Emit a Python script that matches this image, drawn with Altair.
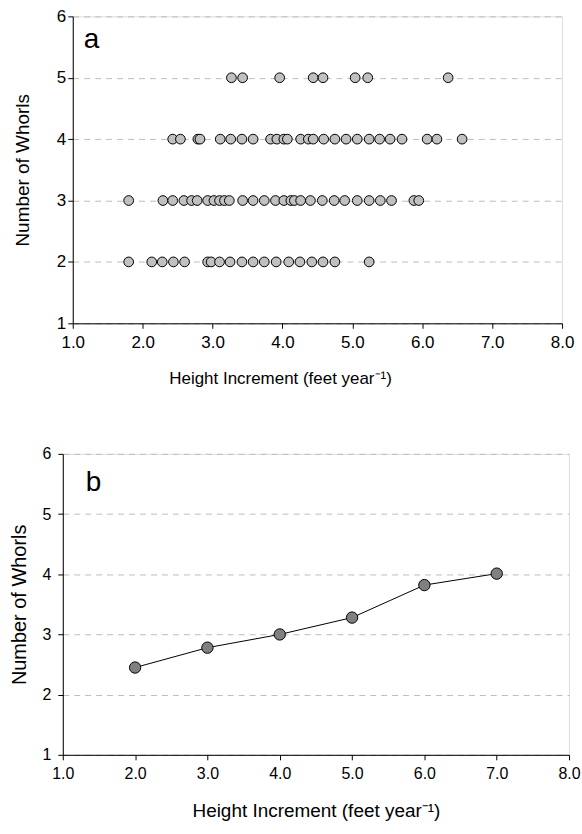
import altair as alt
import pandas as pd

# ---- Panel a: individual observations (height increment, number of whorls)
row5_x = [3.27, 3.43, 3.96, 4.44, 4.58, 5.04, 5.22, 6.37]
row4_x = [2.43, 2.54, 2.79, 2.82, 3.11, 3.26, 3.42, 3.58, 3.83, 3.92, 4.02, 4.07,
          4.26, 4.37, 4.44, 4.59, 4.75, 4.91, 5.07, 5.24, 5.39, 5.54, 5.71,
          6.07, 6.21, 6.57]
row3_x = [1.80, 2.29, 2.43, 2.59, 2.70, 2.78, 2.93, 3.02, 3.10, 3.17, 3.24, 3.43,
          3.58, 3.74, 3.90, 4.02, 4.12, 4.17, 4.26, 4.40, 4.57, 4.74, 4.89,
          5.07, 5.24, 5.40, 5.56, 5.88, 5.95]
row2_x = [1.80, 2.13, 2.28, 2.44, 2.60, 2.93, 2.98, 3.10, 3.25, 3.42, 3.58, 3.74,
          3.91, 4.09, 4.25, 4.42, 4.58, 4.75, 5.24]

# ---- Panel b: mean number of whorls by height-increment class
b_x = [2.0, 3.0, 4.0, 5.0, 6.0, 7.0]
b_y = [2.45, 2.78, 3.00, 3.28, 3.82, 4.01]

x_ticks = [1.0, 2.0, 3.0, 4.0, 5.0, 6.0, 7.0, 8.0]
y_ticks = [1, 2, 3, 4, 5, 6]
x_title = "Height Increment (feet year\u207b\u00b9)"
y_title = "Number of Whorls"

rows = []
for yv, xs in [(5, row5_x), (4, row4_x), (3, row3_x), (2, row2_x)]:
    for xv in xs:
        rows.append({"x": xv, "y": yv})
df_a = pd.DataFrame(rows)
df_b = pd.DataFrame({"x": b_x, "y": b_y})

FONT = "Liberation Sans"
TOTAL_W = 580
SP = 1  # spacer width
LEFT_FIX = 9


def x_axis(label_size, title_size, label_pad, title_pad, title_x=None):
    kw = {}
    if title_x is not None:
        kw["titleX"] = title_x
    return alt.Axis(values=x_ticks, format=".1f", grid=False, domainColor="black",
                    tickColor="black", tickSize=5, labelFont=FONT, labelFontSize=label_size,
                    labelColor="black", labelPadding=label_pad, titleFont=FONT,
                    titleFontSize=title_size, titleFontWeight="normal", titleColor="black",
                    titlePadding=title_pad, labelFlush=False, **kw)


def y_axis(label_size, title_size, label_pad, title_pad):
    return alt.Axis(values=y_ticks, format="d", grid=True, gridDash=[6, 5],
                    gridColor="#bdbdbd", gridWidth=1, domainColor="black",
                    tickColor="black", tickSize=5, labelFont=FONT, labelFontSize=label_size,
                    labelColor="black", labelPadding=label_pad, titleFont=FONT,
                    titleFontSize=title_size, titleFontWeight="normal", titleColor="black",
                    titlePadding=title_pad, labelFlush=False)


def anchors(plot_left):
    # white dots at the page's left and right edges fix each panel's full width
    left = alt.Chart(pd.DataFrame({"t": ["."]})).mark_text(
        font=FONT, fontSize=8, align="left", baseline="middle", color="white"
    ).encode(text="t:N", x=alt.value(-(plot_left - LEFT_FIX)), y=alt.value(150))
    right = alt.Chart(pd.DataFrame({"t": ["."]})).mark_text(
        font=FONT, fontSize=8, align="right", baseline="middle", color="white"
    ).encode(text="t:N", x=alt.value(TOTAL_W - plot_left), y=alt.value(150))
    return [left, right]


def spacer():
    return alt.Chart(pd.DataFrame({"v": [0]})).mark_point(opacity=0).encode(
        x=alt.value(0), y=alt.value(0)
    ).properties(width=SP, height=1, view=alt.ViewBackground(stroke="transparent"))


xs_a = alt.Scale(domain=[1, 8], nice=False, zero=False)
ys = alt.Scale(domain=[1, 6], nice=False, zero=False)

pts_a = alt.Chart(df_a).mark_circle(
    size=95, fill="#c0c0c0", stroke="black", strokeWidth=1, opacity=1
).encode(
    x=alt.X("x:Q", scale=xs_a, axis=x_axis(17, 17, 6, 20, 208), title=x_title),
    y=alt.Y("y:Q", scale=ys, axis=y_axis(17, 19, 2, 24), title=y_title),
)
lab_a = alt.Chart(pd.DataFrame({"t": ["a"]})).mark_text(
    font=FONT, fontSize=28, align="left", baseline="alphabetic", color="black"
).encode(text="t:N", x=alt.value(11), y=alt.value(32))
panel_a = alt.layer(pts_a, lab_a, *anchors(73)).properties(width=491, height=308)

xs_b = alt.Scale(domain=[1, 8], nice=False, zero=False)
base_b = alt.Chart(df_b).encode(
    x=alt.X("x:Q", scale=xs_b, axis=x_axis(16, 19, 6, 20), title=x_title),
    y=alt.Y("y:Q", scale=ys, axis=y_axis(16, 20, 7, 13), title=y_title),
)
line_b = base_b.mark_line(color="black", strokeWidth=1)
pts_b = base_b.mark_circle(size=130, fill="#808080", stroke="black", strokeWidth=1, opacity=1)
lab_b = alt.Chart(pd.DataFrame({"t": ["b"]})).mark_text(
    font=FONT, fontSize=28, align="left", baseline="alphabetic", color="black"
).encode(text="t:N", x=alt.value(23), y=alt.value(37))
panel_b = alt.layer(line_b, pts_b, lab_b, *anchors(60)).properties(width=508, height=302)

row_a = alt.hconcat(spacer(), panel_a, spacing=0)
row_b = alt.hconcat(spacer(), panel_b, spacing=0)

chart = alt.vconcat(row_a, row_b, spacing=58).properties(
    padding={"left": 0, "top": 5, "right": 0, "bottom": 0}
).configure_view(stroke="black", strokeWidth=1).configure(background="white")

chart.save("out.html", embed_options={"renderer": "svg", "actions": False})
